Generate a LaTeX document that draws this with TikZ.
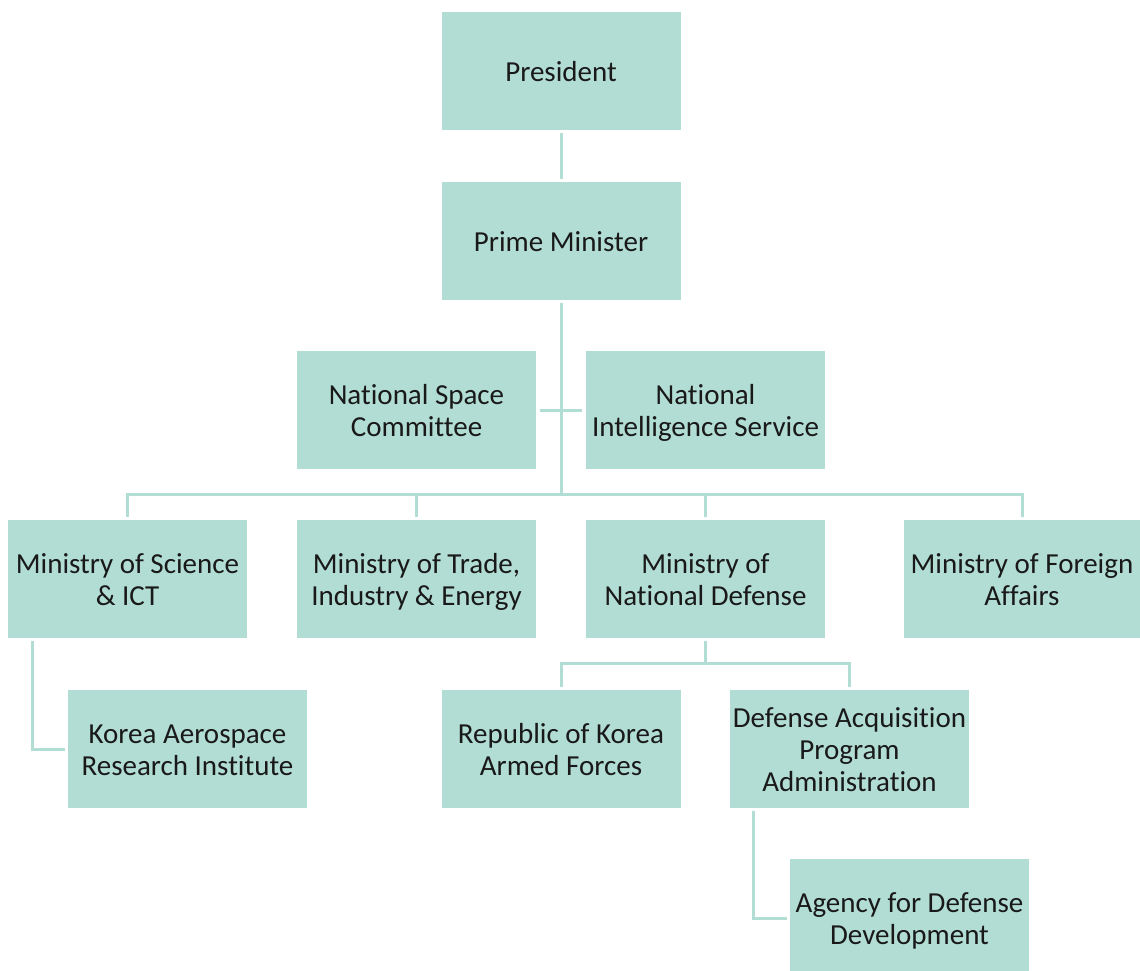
\documentclass[tikz,border=0pt]{standalone}
\usepackage{fontspec}
\setmainfont[Ligatures=NoCommon]{Carlito}
\definecolor{boxfill}{HTML}{B2DDD4}
\definecolor{linecol}{HTML}{B2DDD4}
\newcommand\bx[1]{\rule{0pt}{30.4pt}#1\strut}
\tikzset{
  orgbox/.style={fill=boxfill, draw=none, minimum width=239pt, minimum height=118pt, inner sep=0pt, align=center, text=black!90, font=\fontsize{29}{32}\selectfont},
  conn/.style={draw=linecol, line width=3pt}
}
\begin{document}
\begin{tikzpicture}[x=1pt,y=-1pt]
\useasboundingbox (0,0) rectangle (1140,971);
\node[orgbox] (pres) at (561,71) {\bx{President}};
\node[orgbox] (pm) at (561,241) {\bx{Prime Minister}};
\node[orgbox] (nsc) at (416.5,410) {\bx{National Space\\Committee}};
\node[orgbox] (nis) at (705.5,410) {\bx{National\\Intelligence Service}};
\node[orgbox] (mos) at (127.5,579) {\bx{Ministry of Science\\\& ICT}};
\node[orgbox] (mti) at (416.5,579) {\bx{Ministry of Trade,\\Industry \& Energy}};
\node[orgbox] (mnd) at (705.5,579) {\bx{Ministry of\\National Defense}};
\node[orgbox, minimum width=236pt] (mfa) at (1022,579) {\bx{Ministry of Foreign\\Affairs}};
\node[orgbox] (kari) at (187.5,749) {\bx{Korea Aerospace\\Research Institute}};
\node[orgbox] (rok) at (561,749) {\bx{Republic of Korea\\Armed Forces}};
\node[orgbox] (dapa) at (849.5,749) {\bx{Defense Acquisition\\Program\\Administration}};
\node[orgbox] (add) at (909.5,918) {\bx{Agency for Defense\\Development}};
\coordinate (bus) at (561,494);
\coordinate (mb) at (705.5,663);
% President - PM
\draw[conn] ([yshift=-3pt]pres.south) -- ([yshift=3pt]pm.north);
% PM - bus
\draw[conn] ([yshift=-3pt]pm.south) -- (bus);
% side committees
\draw[conn] ([xshift=4pt]nsc.east) -- ([xshift=-4pt]nis.west);
% ministries bus
\draw[conn] ([yshift=3pt]mos.north) -- (mos.north |- bus) -- (mfa.north |- bus) -- ([yshift=3pt]mfa.north);
\draw[conn] ([yshift=3pt]mti.north) -- (mti.north |- bus);
\draw[conn] ([yshift=3pt]mnd.north) -- (mnd.north |- bus);
% MoS - KARI
\draw[conn] ([xshift=25pt,yshift=-3pt]mos.south west) -- ([xshift=25pt]mos.south west |- kari.west) -- ([xshift=-3pt]kari.west);
% MND - subs
\draw[conn] ([yshift=-3pt]mnd.south) -- (mb);
\draw[conn] ([yshift=3pt]rok.north) -- (rok.north |- mb) -- (dapa.north |- mb) -- ([yshift=3pt]dapa.north);
% DAPA - ADD
\draw[conn] ([xshift=24pt,yshift=-3pt]dapa.south west) -- ([xshift=24pt]dapa.south west |- add.west) -- ([xshift=-3pt]add.west);
\end{tikzpicture}
\end{document}
